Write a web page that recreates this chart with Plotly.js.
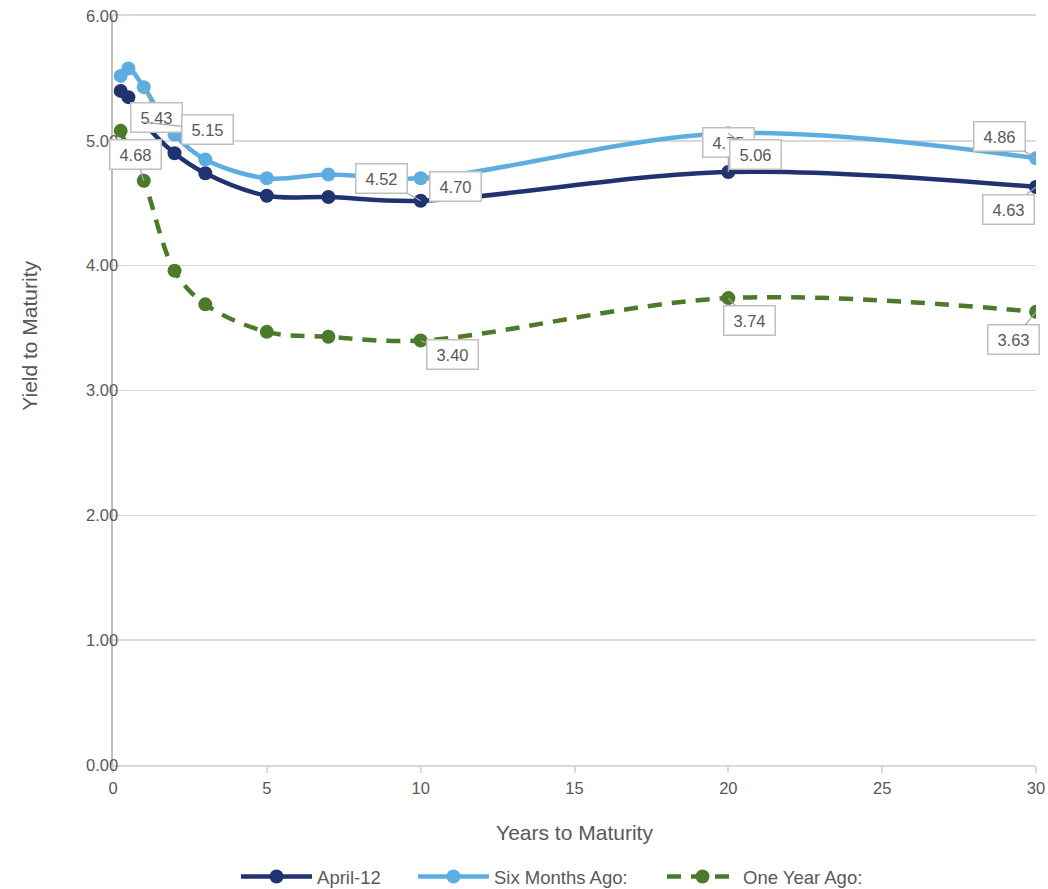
<!DOCTYPE html>
<html>
<head>
<meta charset="utf-8">
<script src="https://cdn.plot.ly/plotly-3.0.1.min.js"></script>
<style>html,body{margin:0;padding:0;background:#fff}#chart{width:1048px;height:889px}</style>
</head>
<body>
<div id="chart"></div>
<script>
// Data
const maturities = [0.25, 0.5, 1, 2, 3, 5, 7, 10, 20, 30];
const april12   = [5.40, 5.35, 5.15, 4.90, 4.74, 4.56, 4.55, 4.52, 4.75, 4.63];
const sixMonths = [5.52, 5.58, 5.43, 5.05, 4.85, 4.70, 4.73, 4.70, 5.06, 4.86];
const oneYear   = [5.08, 4.93, 4.68, 3.96, 3.69, 3.47, 3.43, 3.40, 3.74, 3.63];
const seriesNames = ["April-12", "Six Months Ago:", "One Year Ago:"];
const yTickVals = [0, 1, 2, 3, 4, 5, 6];
const xTickVals = [0, 5, 10, 15, 20, 25, 30];

const colors = ["#213271", "#5DADE2", "#4B7A2B"];
const seriesData = [april12, sixMonths, oneYear];
const legendIds = ["legend", "legend2", "legend3"];
const legendX = [0.1333, 0.3250, 0.5948];

const traces = seriesData.map((vals, i) => ({
  type: "scatter",
  mode: "lines+markers",
  name: seriesNames[i],
  legend: legendIds[i],
  x: maturities,
  y: vals,
  line: {color: colors[i], width: 4.5, shape: "spline", smoothing: 1, dash: i === 2 ? "14px,10px" : "solid"},
  marker: {color: colors[i], size: 14},
  hoverinfo: "x+y"
}));

// data label placements: [series, pointIndex, ax, ay]
const labelSpecs = [
  [1, 2, 13, 30], [0, 2, 64, 7], [2, 2, -8, -26],
  [0, 7, -39, -22], [1, 7, 35, 8], [2, 7, 32, 14],
  [0, 8, 0, -30], [1, 8, 27, 21], [2, 8, 21, 22],
  [1, 9, -37, -22], [0, 9, -28, 22], [2, 9, -23, 28]
];
const annotations = labelSpecs.map(([s, idx, ax, ay]) => ({
  x: maturities[idx], y: seriesData[s][idx], xref: "x", yref: "y",
  text: seriesData[s][idx].toFixed(2),
  showarrow: true, arrowhead: 0, arrowwidth: 1.2, arrowcolor: "#A6A6A6",
  ax: ax, ay: ay, axref: "pixel", ayref: "pixel",
  bgcolor: "#FFFFFF", bordercolor: "#BFBFBF", borderwidth: 1.5,
  borderpad: 3, width: 44, height: 22,
  font: {family: "Liberation Sans, Arial, sans-serif", size: 16.5, color: "#595959"}
}));
annotations.push({
  xref: "paper", yref: "paper", x: -0.09, y: 0.573, xanchor: "center", yanchor: "middle",
  text: "Yield to Maturity", textangle: -90, showarrow: false,
  font: {family: "Liberation Sans, Arial, sans-serif", size: 21, color: "#595959"}
});

const layout = {
  width: 1048, height: 889,
  margin: {l: 113, r: 12, t: 16, b: 124},
  paper_bgcolor: "#FFFFFF", plot_bgcolor: "#FFFFFF",
  font: {family: "Liberation Sans, Arial, sans-serif", size: 16, color: "#595959"},
  showlegend: true,
  xaxis: {
    range: [0, 30], tickvals: xTickVals, ticktext: xTickVals.map(String),
    showgrid: false, zeroline: false,
    showline: true, linecolor: "#D9D9D9", linewidth: 2, mirror: true,
    ticks: "outside", ticklen: 6, tickcolor: "#D9D9D9", tickwidth: 2,
    ticklabelstandoff: 1,
    tickfont: {size: 16.5, color: "#595959"},
    title: {text: "Years to Maturity", standoff: 30, font: {size: 21, color: "#595959"}}
  },
  yaxis: {
    range: [0, 6], tickvals: yTickVals, ticktext: yTickVals.map(v => v.toFixed(2)),
    showgrid: true, gridcolor: "#D9D9D9", gridwidth: 1.5, zeroline: false,
    showline: true, linecolor: "#BFBFBF", linewidth: 2.5,
    ticks: "", ticklabelstandoff: -11,
    tickfont: {size: 16.5, color: "#595959"}
  },
  annotations: annotations
};
legendIds.forEach((id, i) => {
  layout[id] = {orientation: "h", x: legendX[i], xanchor: "left", xref: "paper",
                y: 0.0135, yanchor: "middle", yref: "container",
                font: {size: 18.5, color: "#595959"}, itemwidth: 71,
                bgcolor: "rgba(0,0,0,0)"};
});

Plotly.newPlot("chart", traces, layout, {displayModeBar: false, staticPlot: true});
</script>
</body>
</html>
